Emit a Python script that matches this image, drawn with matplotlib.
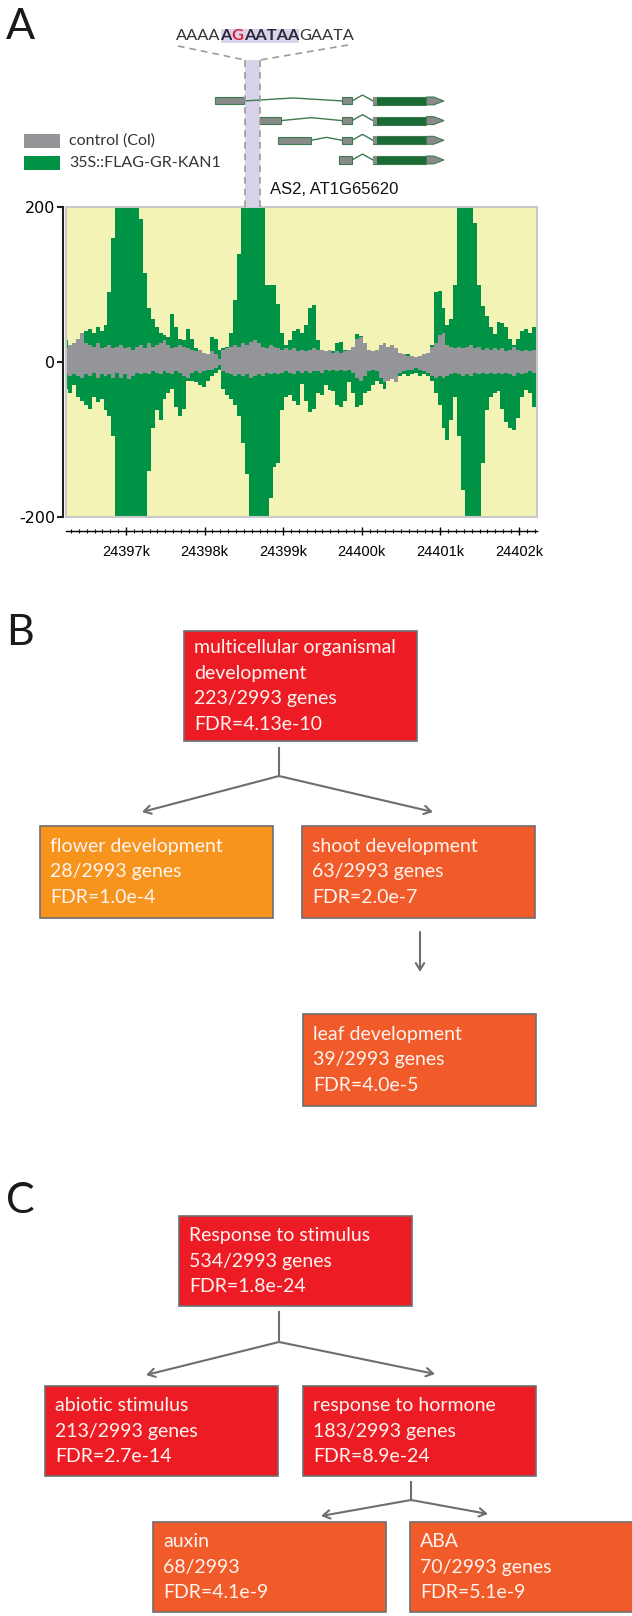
import numpy as np
import matplotlib.pyplot as plt
from matplotlib.patches import Rectangle, Polygon
from matplotlib.ticker import MultipleLocator, FuncFormatter

W, H = 632, 1616

# ---- panel A: coverage in 50 bp bins (kb) ----
bin_start = 24396.24
bin_size = 0.05
kan_hi = [28, 22, 20, 30, 35, 40, 42, 38, 45, 40,
          48, 90, 160, 250, 250, 250, 250, 250, 250, 185,
          115, 70, 55, 45, 38, 35, 32, 62, 45, 30,
          28, 42, 30, 18, 15, 12, 10, 32, 30, 15,
          18, 20, 38, 80, 140, 250, 250, 250, 250, 250,
          210, 100, 100, 100, 75, 38, 22, 28, 40, 42,
          38, 48, 70, 74, 28, 15, 12, 10, 14, 24,
          26, 16, 12, 20, 36, 34, 22, 12, 12, 10,
          10, 12, 10, 10, 8, 10, 8, 10, 8, 6,
          8, 6, 10, 22, 90, 92, 70, 48, 55, 100,
          250, 250, 250, 250, 180, 100, 72, 60, 45, 36,
          52, 50, 45, 30, 22, 30, 40, 42, 38, 45, 40]
kan_lo = [-35, -40, -30, -45, -50, -55, -60, -45, -52, -48,
          -62, -70, -95, -250, -250, -250, -250, -250, -250, -250,
          -250, -140, -85, -62, -75, -48, -40, -35, -58, -70,
          -60, -25, -24, -26, -30, -32, -24, -18, -14, -10,
          -35, -42, -48, -55, -70, -105, -145, -250, -250, -250,
          -250, -250, -175, -135, -130, -62, -45, -42, -50, -56,
          -28, -50, -65, -60, -40, -42, -30, -36, -38, -55,
          -58, -50, -26, -40, -58, -56, -40, -38, -30, -24,
          -28, -35, -22, -20, -20, -18, -16, -18, -16, -14,
          -18, -16, -18, -25, -40, -56, -85, -100, -75, -45,
          -95, -165, -250, -250, -250, -250, -130, -62, -45, -40,
          -38, -60, -78, -85, -88, -72, -45, -36, -40, -58, -50]
col_hi = [18, 22, 25, 30, 38, 25, 22, 20, 24, 18,
          20, 22, 18, 20, 22, 18, 20, 16, 20, 22,
          18, 24, 20, 22, 24, 28, 22, 18, 20, 22,
          20, 18, 15, 14, 16, 12, 10, 14, 10, 4,
          16, 18, 20, 22, 20, 24, 22, 26, 28, 24,
          20, 18, 22, 20, 18, 16, 18, 16, 18, 14,
          16, 14, 16, 18, 16, 15, 14, 15, 12, 14,
          12, 14, 15, 20, 30, 32, 24, 16, 14, 16,
          22, 24, 20, 22, 18, 12, 10, 8, 8, 6,
          8, 10, 12, 20, 25, 35, 38, 22, 20, 18,
          20, 18, 20, 22, 18, 20, 16, 18, 16, 18,
          16, 18, 14, 16, 20, 16, 14, 16, 14, 16, 15]
col_lo = [-15, -18, -16, -18, -20, -15, -18, -14, -20, -16,
          -18, -16, -20, -14, -20, -15, -22, -18, -14, -16,
          -14, -16, -12, -14, -15, -12, -14, -15, -12, -14,
          -18, -20, -14, -12, -14, -12, -10, -10, -8, -4,
          -12, -14, -16, -18, -16, -18, -16, -20, -18, -16,
          -18, -14, -16, -14, -15, -14, -12, -14, -16, -12,
          -14, -12, -14, -12, -12, -14, -10, -12, -10, -12,
          -10, -12, -10, -14, -20, -24, -18, -12, -10, -12,
          -20, -26, -24, -22, -26, -14, -12, -10, -10, -8,
          -10, -12, -14, -18, -20, -18, -20, -18, -16, -14,
          -16, -18, -16, -18, -14, -16, -14, -16, -14, -16,
          -14, -16, -14, -16, -18, -14, -16, -14, -12, -14, -13]
view = (24396.237, 24402.23)
y_ticks = [-200, 0, 200]

# AS2 transcripts (kb)
first_exons = [(24398.133, 24398.508), (24398.710, 24398.972), (24398.934, 24399.354), None]
exon2 = [(24399.748, 24399.876)] * 3 + [(24399.71, 24399.876)]
cds = (24400.143, 24400.823)
utr3_end = 24401.046
motif = (24398.514, 24398.705)
seq_parts = ["AAAA", "A", "G", "AATAA", "GAATA"]

# ---- panels B / C: GO terms ----
b_terms = [["multicellular organismal", "development"], ["flower development"],
           ["shoot development"], ["leaf development"]]
b_counts = ["223/2993 genes", "28/2993 genes", "63/2993 genes", "39/2993 genes"]
b_fdr = ["4.13e-10", "1.0e-4", "2.0e-7", "4.0e-5"]
c_terms = [["Response to stimulus"], ["abiotic stimulus"], ["response to hormone"],
           ["auxin"], ["ABA"]]
c_counts = ["534/2993 genes", "213/2993 genes", "183/2993 genes", "68/2993", "70/2993 genes"]
c_fdr = ["1.8e-24", "2.7e-14", "8.9e-24", "4.1e-9", "5.1e-9"]

RED, ORANGE, ORED = "#ed1c24", "#f7941d", "#f15a29"
GREEN, GRAY = "#009345", "#939598"
LINE = "#6d6e71"


def rect(x0, y0, x1, y1):
    return [x0 / W, 1 - y1 / H, (x1 - x0) / W, (y1 - y0) / H]


def kb2px(v):
    return 66 + (v - view[0]) / (view[1] - view[0]) * 471


fig = plt.figure(figsize=(W / 100, H / 100), dpi=100)
ax0 = fig.add_axes([0, 0, 1, 1])
ax0.set_xlim(0, W)
ax0.set_ylim(H, 0)
ax0.axis("off")

# panel letters
for lab, yc in [("A", 27), ("B", 633), ("C", 1201)]:
    ax0.text(6, yc, lab, fontsize=31, family="Lato", va="center", color="#1a1a1a")

# ---- track ----
pos = bin_start + bin_size * np.arange(len(kan_hi))
ax = fig.add_axes(rect(66, 207, 537, 517))
ax.set_facecolor("#f3f3b5")
ax.fill_between(pos, kan_lo, kan_hi, step="mid", color=GREEN, lw=0)
ax.fill_between(pos, col_lo, col_hi, step="mid", color=GRAY, lw=0)
ax.set_xlim(view)
ax.set_ylim(-200, 200)
ax.set_yticks(y_ticks)
ax.set_yticklabels([str(v) for v in y_ticks])
ax.tick_params(axis="y", length=4, width=1.5, pad=1.5, labelsize=11.5, color="#222222")
for t in ax.get_yticklabels():
    t.set_fontfamily("Lato")
ax.set_xticks([])
for s in ["top", "right", "bottom"]:
    ax.spines[s].set_color("#c9c9c9")
    ax.spines[s].set_linewidth(1.5)
ax.spines["left"].set_position(("outward", 2))
ax.spines["left"].set_linewidth(1.5)
ax.spines["left"].set_color("#222222")
ax.plot([0, 0], [0, 1], transform=ax.transAxes, color="#c9c9c9", lw=1.5, clip_on=False)

# ruler
rax = fig.add_axes(rect(66, 529.5, 537, 530.7))
rax.set_xlim(view)
rax.set_facecolor("none")
rax.set_yticks([])
for s in ["top", "left", "right"]:
    rax.spines[s].set_visible(False)
rax.spines["bottom"].set_linewidth(1)
rax.xaxis.set_major_locator(MultipleLocator(1))
rax.xaxis.set_minor_locator(MultipleLocator(0.1))
rax.xaxis.set_major_formatter(FuncFormatter(lambda v, p: f"{v:.0f}k"))
rax.tick_params(axis="x", which="major", direction="inout", length=6, width=1, pad=7, labelsize=10.5)
rax.tick_params(axis="x", which="minor", direction="inout", length=3, width=0.8)
for t in rax.get_xticklabels():
    t.set_fontfamily("Liberation Sans")

# gene models
gax = fig.add_axes(rect(66, 60, 537, 207))
gax.set_xlim(view)
gax.set_ylim(5.39, -2.08)
gax.axis("off")
gax.axvspan(*motif, color="#d9d3ea", lw=0, zorder=0)
for m in motif:
    gax.axvline(m, color="#9b9b9b", ls=(0, (4, 3)), lw=1.2, zorder=4)
edge = "#3d7a4f"
for r in range(4):
    fe = first_exons[r]
    e2 = exon2[r]
    if fe is not None:
        gax.add_patch(Rectangle((fe[0], r - 0.18), fe[1] - fe[0], 0.36, fc="#8a8a8a", ec=edge, lw=0.8, zorder=2))
        mid = (fe[1] + e2[0]) / 2
        gax.plot([fe[1], mid, e2[0]], [r, r - 0.15, r], color=edge, lw=1, zorder=1)
    gax.add_patch(Rectangle((e2[0], r - 0.18), e2[1] - e2[0], 0.36, fc="#8a8a8a", ec=edge, lw=0.8, zorder=2))
    mid = (e2[1] + cds[0]) / 2
    gax.plot([e2[1], mid, cds[0]], [r, r - 0.3, r], color=edge, lw=1, zorder=1)
    gax.add_patch(Rectangle((cds[0], r - 0.2), cds[1] - cds[0], 0.4, fc="#1b6b35", ec=edge, lw=0.8, zorder=2))
    gax.add_patch(Rectangle((cds[0], r - 0.2), 0.05, 0.4, fc="#8a8a8a", ec="none", zorder=3))
    gax.add_patch(Polygon([(cds[1], r - 0.2), (utr3_end - 0.13, r - 0.2), (utr3_end, r),
                           (utr3_end - 0.13, r + 0.2), (cds[1], r + 0.2)],
                          closed=True, fc="#8a8a8a", ec=edge, lw=0.8, zorder=2))

# motif sequence
seq_styles = [("normal", "#333333", False), ("bold", "#2b2838", True), ("bold", "#e0203a", True),
              ("bold", "#2b2838", True), ("normal", "#333333", False)]
prev = None
for part, (wt, colr, hl) in zip(seq_parts, seq_styles):
    bb = dict(boxstyle="square,pad=0", fc="#d9d3ea", ec="none") if hl else None
    if prev is None:
        prev = ax0.text(176, 40, part, fontsize=11.8, family="Lato", weight=wt, color=colr,
                        va="baseline", ha="left", bbox=bb)
    else:
        prev = ax0.annotate(part, xy=(1, 0), xycoords=prev, fontsize=11.8, family="Lato",
                            weight=wt, color=colr, va="bottom", ha="left", bbox=bb)
ax0.plot([178, kb2px(motif[0])], [46, 60], color="#9b9b9b", ls=(0, (4, 3)), lw=1.2)
ax0.plot([348, kb2px(motif[1])], [45, 60], color="#9b9b9b", ls=(0, (4, 3)), lw=1.2)

ax0.text(270, 189, "AS2, AT1G65620", fontsize=12, family="Liberation Sans", va="center", color="#111111")

# legend
for (lab, colr), yc in zip([("control (Col)", GRAY), ("35S::FLAG-GR-KAN1", GREEN)], [141, 163]):
    ax0.add_patch(Rectangle((24, yc - 7), 36, 14, fc=colr, ec="none"))
    ax0.text(69, yc, lab, fontsize=11.5, family="Lato", va="center", color="#333333")

# ---- GO boxes ----
BOX_W = 233


def go_box(x, y, h, lines, colr):
    ax0.add_patch(Rectangle((x, y), BOX_W, h, fc=colr, ec=LINE, lw=1.2, clip_on=False))
    pitch = 25.5
    y0 = y + h / 2 - (len(lines) - 1) * pitch / 2
    for k, line in enumerate(lines):
        ax0.text(x + 10, y0 + k * pitch, line, fontsize=14, family="Lato", color="#fff4f0",
                 va="center", ha="left")


ARROW = dict(arrowstyle="->,head_length=0.5,head_width=0.3", color=LINE, lw=1.5, shrinkA=0, shrinkB=0)


def split(xc, y0, y1, tips):
    ax0.plot([xc, xc], [y0, y1], color=LINE, lw=1.5)
    for tx, ty in tips:
        ax0.annotate("", xy=(tx, ty), xytext=(xc, y1), arrowprops=ARROW)


b_layout = [(184, 631, 110, RED), (40, 826, 92, ORANGE), (302, 826, 92, ORED), (303, 1014, 92, ORED)]
for (x, y, h, colr), term, cnt, fdr in zip(b_layout, b_terms, b_counts, b_fdr):
    go_box(x, y, h, term + [cnt, "FDR=" + fdr], colr)
split(279, 748, 776, [(142, 812), (433, 812)])
ax0.annotate("", xy=(420, 972), xytext=(420, 932), arrowprops=ARROW)

c_layout = [(179, 1216, 90, RED), (45, 1386, 90, RED), (303, 1386, 90, RED),
            (153, 1522, 90, ORED), (410, 1522, 90, ORED)]
for (x, y, h, colr), term, cnt, fdr in zip(c_layout, c_terms, c_counts, c_fdr):
    go_box(x, y, h, term + [cnt, "FDR=" + fdr], colr)
split(279, 1312, 1342, [(146, 1375), (435, 1374)])
split(411, 1482, 1500, [(321, 1516), (488, 1514)])

fig.savefig("out.png", dpi=100)
